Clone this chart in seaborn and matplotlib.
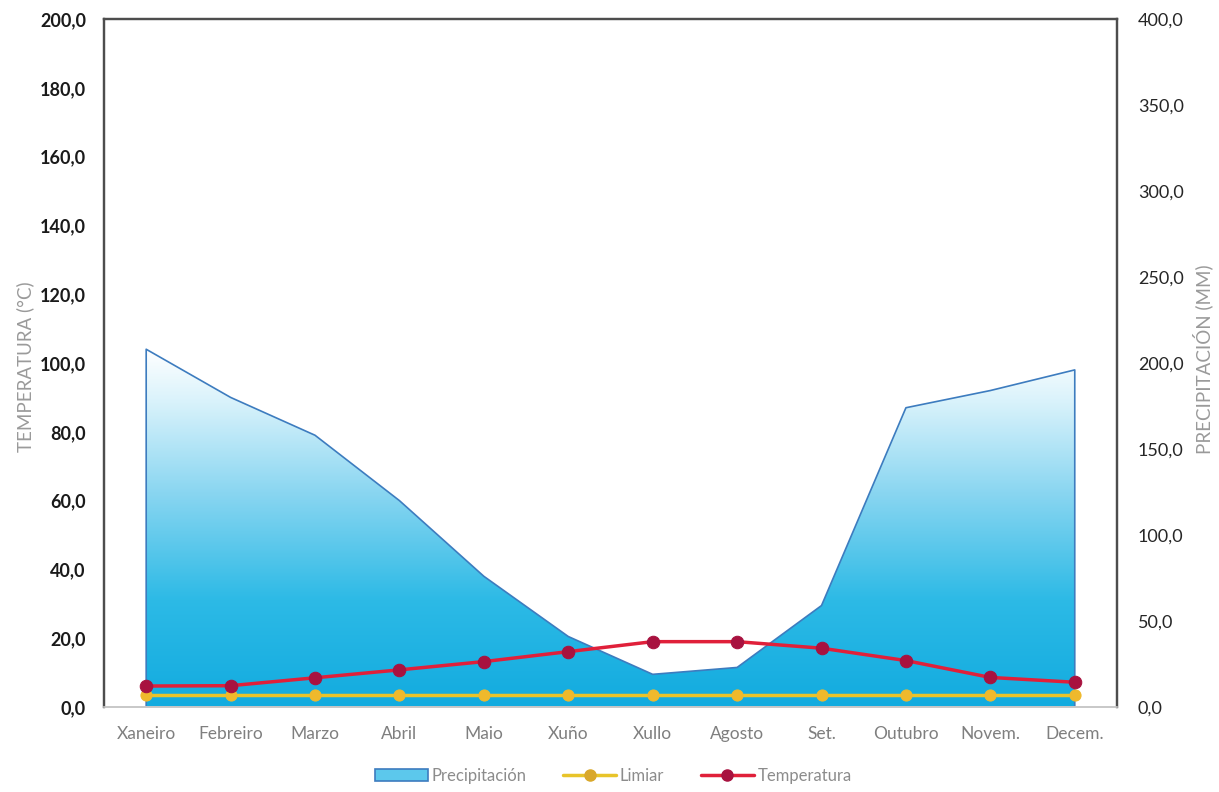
import numpy as np
import pandas as pd
import matplotlib
matplotlib.use("Agg")
import matplotlib.pyplot as plt
import seaborn as sns
from matplotlib.colors import LinearSegmentedColormap
from matplotlib.patches import Patch
from matplotlib.lines import Line2D
from matplotlib.ticker import FuncFormatter, MultipleLocator

# Monthly climate values
months = ["Xaneiro", "Febreiro", "Marzo", "Abril", "Maio", "Xuño",
          "Xullo", "Agosto", "Set.", "Outubro", "Novem.", "Decem."]
precipitacion = [208, 180, 158, 120, 76, 41, 19, 23, 59, 174, 184, 196]   # mm
temperatura = [6.1, 6.2, 8.5, 10.8, 13.2, 16.1, 19.0, 19.0, 17.1, 13.5, 8.6, 7.2]  # °C
limiar = [3.5] * 12

sns.set_style("white")
plt.rcParams["font.family"] = ["Lato", "DejaVu Sans"]

x = np.arange(len(months))
df = pd.DataFrame({"mes": x, "Temperatura": temperatura, "Limiar": limiar})

fig = plt.figure(figsize=(12.19, 7.92), dpi=100)
ax = fig.add_axes([0.0853, 0.1073, 0.8310, 0.8687])
ax2 = ax.twinx()

# Precipitation area with vertical gradient, on the right axis
cmap = LinearSegmentedColormap.from_list(
    "prec", [(0.0, "#12abdf"), (0.3, "#2dbae6"), (0.6, "#8ad6f1"),
             (0.85, "#d8f2fb"), (1.0, "#ffffff")])
pmax = max(precipitacion)
grad = np.linspace(0, 1, 256).reshape(-1, 1)
im = ax2.imshow(grad, extent=[x[0], x[-1], 0, pmax], origin="lower",
                aspect="auto", cmap=cmap, zorder=1, interpolation="bilinear")
area = ax2.fill_between(x, 0, precipitacion, facecolor="none",
                        edgecolor="#3d7cbf", linewidth=1.2, zorder=2)
im.set_clip_path(area.get_paths()[0], transform=ax2.transData)

# Temperature and threshold lines on the left axis
sns.lineplot(data=df, x="mes", y="Limiar", ax=ax, color="#e8c42a", linewidth=2.5,
             marker="o", markersize=8, markerfacecolor="#efb92c",
             markeredgecolor="#efb92c", zorder=3)
sns.lineplot(data=df, x="mes", y="Temperatura", ax=ax, color="#e0203a", linewidth=2.5,
             marker="o", markersize=9, markerfacecolor="#a8123f",
             markeredgecolor="#a8123f", zorder=4)

ax.set_zorder(ax2.get_zorder() + 1)
ax.patch.set_visible(False)

ax.set_xlim(-0.5, len(months) - 0.5)
ax.set_ylim(0, 200)
ax2.set_ylim(0, 400)
ax2.set_xlim(-0.5, len(months) - 0.5)

fmt = FuncFormatter(lambda v, p: f"{v:.1f}".replace(".", ","))
ax.yaxis.set_major_locator(MultipleLocator(20))
ax.yaxis.set_major_formatter(fmt)
ax2.yaxis.set_major_locator(MultipleLocator(50))
ax2.yaxis.set_major_formatter(fmt)

ax.set_xticks(x)
ax.set_xticklabels(months)
ax.tick_params(axis="x", length=0, pad=14, labelsize=12.5, labelcolor="#7f7f7f")
ax.tick_params(axis="y", length=0, pad=13, labelsize=13, labelcolor="#1a1a1a")
for lab in ax.get_yticklabels():
    lab.set_fontweight("bold")
ax2.tick_params(axis="y", length=0, pad=15, labelsize=13, labelcolor="#262626")

ax.set_xlabel("")
ax.set_ylabel("TEMPERATURA (°C)", color="#9a9a9a", fontsize=13.5)
ax.yaxis.set_label_coords(-0.069, 0.495)
ax2.set_ylabel("PRECIPITACIÓN (MM)", color="#9a9a9a", fontsize=13.5, rotation=90)
ax2.yaxis.set_label_coords(1.0746, 0.505)

for a in (ax, ax2):
    for side in ("left", "right", "top"):
        a.spines[side].set_color("#4d4d4d")
        a.spines[side].set_linewidth(1.6)
    a.spines["bottom"].set_color("#c8c8c8")
    a.spines["bottom"].set_linewidth(1.2)

handles = [
    Patch(facecolor="#5cc8ec", edgecolor="#3d7cbf", linewidth=1.2),
    Line2D([0], [0], color="#e8c42a", linewidth=2.5, marker="o", markersize=8,
           markerfacecolor="#d9a82a", markeredgecolor="#d9a82a"),
    Line2D([0], [0], color="#e0203a", linewidth=2.5, marker="o", markersize=8,
           markerfacecolor="#a8123f", markeredgecolor="#a8123f"),
]
fig.legend(handles, ["Precipitación", "Limiar", "Temperatura"], loc="center",
           bbox_to_anchor=(0.503, 0.02), ncol=3, frameon=False, fontsize=12,
           labelcolor="#8c8c8c", handlelength=3.2, handletextpad=0.2,
           columnspacing=2.2)

fig.savefig("out.png", dpi=100)
